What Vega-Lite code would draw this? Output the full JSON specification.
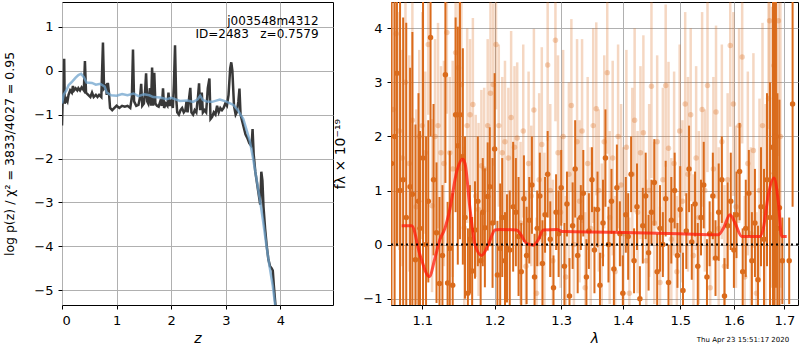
{
"$schema": "https://vega.github.io/schema/vega-lite/v6.json",
"padding": {"left": 3, "top": 1, "right": 0, "bottom": 0},
"bounds": "flush",
"spacing": 58,
"config": {
 "font": "DejaVu Sans",
 "view": {"stroke": "black", "strokeWidth": 1},
 "axis": {"grid": true, "gridColor": "#b0b0b0", "gridWidth": 1, "domain": false, "tickColor": "black", "tickSize": 4, "labelPadding": 5, "labelFontSize": 13, "labelColor": "black", "titleFontSize": 14, "titleColor": "black", "titleFontWeight": "normal", "zindex": 1}
},
"datasets": {
 "pz": [
  {"z":0.00,"p":-1.25},{"z":0.01,"p":-0.75},{"z":0.03,"p":-0.7},{"z":0.04,"p":0.27},{"z":0.05,"p":-0.75},{"z":0.08,"p":-0.65},{"z":0.10,"p":-0.7},{"z":0.12,"p":-0.55},{"z":0.15,"p":-0.45},{"z":0.18,"p":-0.5},{"z":0.20,"p":-0.35},{"z":0.22,"p":-0.45},{"z":0.25,"p":-0.4},{"z":0.28,"p":-0.45},{"z":0.30,"p":-0.4},{"z":0.33,"p":-0.45},{"z":0.36,"p":-0.38},{"z":0.40,"p":-0.45},{"z":0.42,"p":0.22},{"z":0.44,"p":-0.5},{"z":0.48,"p":-0.55},{"z":0.52,"p":-0.6},{"z":0.55,"p":-0.5},{"z":0.58,"p":-0.6},{"z":0.62,"p":-0.55},{"z":0.65,"p":-0.6},{"z":0.68,"p":-0.55},{"z":0.72,"p":-0.6},{"z":0.75,"p":0.64},{"z":0.77,"p":-0.4},{"z":0.80,"p":-0.35},{"z":0.82,"p":-0.55},{"z":0.84,"p":-0.28},{"z":0.86,"p":-0.5},{"z":0.88,"p":-0.85},{"z":0.92,"p":-0.9},{"z":0.96,"p":-0.85},{"z":1.00,"p":-0.8},{"z":1.05,"p":-0.85},{"z":1.10,"p":-0.8},{"z":1.15,"p":-0.82},{"z":1.20,"p":-0.8},{"z":1.25,"p":-0.85},{"z":1.28,"p":-0.6},{"z":1.30,"p":0.48},{"z":1.32,"p":-0.7},{"z":1.36,"p":-0.8},{"z":1.40,"p":-0.78},{"z":1.43,"p":-0.6},{"z":1.45,"p":-0.3},{"z":1.47,"p":-0.8},{"z":1.50,"p":-0.75},{"z":1.52,"p":-0.5},{"z":1.54,"p":-0.06},{"z":1.56,"p":-0.7},{"z":1.58,"p":-0.75},{"z":1.61,"p":-0.4},{"z":1.63,"p":-0.8},{"z":1.65,"p":0.07},{"z":1.67,"p":-0.8},{"z":1.69,"p":-0.05},{"z":1.71,"p":-0.75},{"z":1.74,"p":-0.8},{"z":1.77,"p":-0.82},{"z":1.80,"p":-0.7},{"z":1.83,"p":-0.8},{"z":1.85,"p":-0.4},{"z":1.87,"p":-0.85},{"z":1.90,"p":-0.75},{"z":1.93,"p":-0.8},{"z":1.95,"p":-0.5},{"z":1.97,"p":-0.8},{"z":2.00,"p":-0.7},{"z":2.03,"p":-0.85},{"z":2.05,"p":-0.3},{"z":2.07,"p":0.58},{"z":2.09,"p":-0.6},{"z":2.11,"p":-0.95},{"z":2.14,"p":-1.0},{"z":2.17,"p":-0.9},{"z":2.20,"p":-0.85},{"z":2.23,"p":-0.95},{"z":2.26,"p":-0.9},{"z":2.28,"p":-0.7},{"z":2.30,"p":-0.95},{"z":2.33,"p":-0.6},{"z":2.35,"p":-0.39},{"z":2.37,"p":-0.95},{"z":2.40,"p":-1.0},{"z":2.43,"p":-0.9},{"z":2.46,"p":-0.95},{"z":2.49,"p":-0.6},{"z":2.51,"p":-0.29},{"z":2.53,"p":-0.9},{"z":2.56,"p":-0.5},{"z":2.58,"p":-0.95},{"z":2.61,"p":-0.9},{"z":2.64,"p":-0.95},{"z":2.67,"p":-0.4},{"z":2.70,"p":-0.18},{"z":2.72,"p":-1.1},{"z":2.75,"p":-1.05},{"z":2.78,"p":-0.95},{"z":2.81,"p":-1.0},{"z":2.84,"p":-0.8},{"z":2.87,"p":-0.95},{"z":2.90,"p":-0.85},{"z":2.93,"p":-0.9},{"z":2.96,"p":-0.85},{"z":2.99,"p":-0.75},{"z":3.02,"p":-0.8},{"z":3.05,"p":-0.55},{"z":3.08,"p":0.05},{"z":3.10,"p":0.19},{"z":3.12,"p":0.0},{"z":3.15,"p":-0.8},{"z":3.18,"p":-1.0},{"z":3.20,"p":-0.95},{"z":3.23,"p":-0.7},{"z":3.25,"p":-0.41},{"z":3.27,"p":-1.0},{"z":3.30,"p":-1.15},{"z":3.33,"p":-1.3},{"z":3.36,"p":-1.45},{"z":3.40,"p":-1.55},{"z":3.43,"p":-1.65},{"z":3.46,"p":-1.7},{"z":3.48,"p":-1.55},{"z":3.49,"p":-1.33},{"z":3.51,"p":-1.9},{"z":3.54,"p":-2.3},{"z":3.57,"p":-2.55},{"z":3.60,"p":-2.8},{"z":3.63,"p":-3.05},{"z":3.65,"p":-2.3},{"z":3.67,"p":-2.5},{"z":3.69,"p":-3.1},{"z":3.72,"p":-3.6},{"z":3.75,"p":-4.0},{"z":3.78,"p":-4.3},{"z":3.81,"p":-4.45},{"z":3.84,"p":-4.5},{"z":3.86,"p":-4.55},{"z":3.88,"p":-4.9},{"z":3.92,"p":-5.5}
 ],
 "pzs": [
  {"z":0.00,"p":-0.75},{"z":0.03,"p":-0.55},{"z":0.08,"p":-0.45},{"z":0.12,"p":-0.33},{"z":0.17,"p":-0.27},{"z":0.25,"p":-0.16},{"z":0.30,"p":-0.1},{"z":0.35,"p":-0.07},{"z":0.40,"p":-0.15},{"z":0.45,"p":-0.27},{"z":0.55,"p":-0.28},{"z":0.62,"p":-0.32},{"z":0.70,"p":-0.3},{"z":0.78,"p":-0.36},{"z":0.82,"p":-0.5},{"z":0.90,"p":-0.56},{"z":1.00,"p":-0.57},{"z":1.10,"p":-0.53},{"z":1.20,"p":-0.56},{"z":1.31,"p":-0.52},{"z":1.40,"p":-0.58},{"z":1.50,"p":-0.54},{"z":1.60,"p":-0.56},{"z":1.67,"p":-0.6},{"z":1.80,"p":-0.61},{"z":1.92,"p":-0.65},{"z":2.00,"p":-0.62},{"z":2.16,"p":-0.69},{"z":2.30,"p":-0.68},{"z":2.40,"p":-0.71},{"z":2.48,"p":-0.66},{"z":2.53,"p":-0.57},{"z":2.58,"p":-0.67},{"z":2.65,"p":-0.7},{"z":2.75,"p":-0.71},{"z":2.89,"p":-0.66},{"z":3.00,"p":-0.7},{"z":3.14,"p":-0.78},{"z":3.22,"p":-0.9},{"z":3.32,"p":-1.1},{"z":3.38,"p":-1.35},{"z":3.44,"p":-1.6},{"z":3.50,"p":-2.0},{"z":3.56,"p":-2.45},{"z":3.62,"p":-2.9},{"z":3.68,"p":-3.4},{"z":3.74,"p":-3.95},{"z":3.80,"p":-4.45},{"z":3.86,"p":-4.9},{"z":3.92,"p":-5.5}
 ],
 "model": [
  {"w":1.0731,"f":0.35},{"w":1.0861,"f":0.35},{"w":1.0970,"f":-0.19},{"w":1.1093,"f":-0.59},{"w":1.1169,"f":-0.25},{"w":1.1237,"f":0.10},{"w":1.1304,"f":0.30},{"w":1.1373,"f":0.67},{"w":1.1465,"f":1.35},{"w":1.1545,"f":1.58},{"w":1.1580,"f":1.5},{"w":1.1649,"f":0.67},{"w":1.1720,"f":0.0},{"w":1.1814,"f":-0.2},{"w":1.1909,"f":0.0},{"w":1.2005,"f":0.27},{"w":1.2077,"f":0.28},{"w":1.2322,"f":0.27},{"w":1.2371,"f":0.21},{"w":1.2471,"f":0.02},{"w":1.2571,"f":-0.01},{"w":1.2647,"f":0.09},{"w":1.2723,"f":0.27},{"w":1.2930,"f":0.28},{"w":1.3032,"f":0.24},{"w":1.3840,"f":0.23},{"w":1.4996,"f":0.20},{"w":1.5703,"f":0.18},{"w":1.5798,"f":0.30},{"w":1.5925,"f":0.55},{"w":1.6021,"f":0.40},{"w":1.6151,"f":0.15},{"w":1.6510,"f":0.15},{"w":1.6576,"f":0.30},{"w":1.6676,"f":0.92},{"w":1.6791,"f":1.23},{"w":1.6878,"f":0.79},{"w":1.6947,"f":0.15},{"w":1.7049,"f":0.15}
 ],
 "dark": [
  {"w":1.060,"f":1.5,"lo":-2.5,"hi":5.5},{"w":1.064,"f":2.0,"lo":-1.5,"hi":5.5},{"w":1.067,"f":3.17,"lo":-0.03,"hi":6.37},{"w":1.071,"f":1.0,"lo":-2.8,"hi":4.8},{"w":1.075,"f":1.2,"lo":-1.8,"hi":4.2},{"w":1.079,"f":0.5,"lo":-3.1,"hi":4.1},{"w":1.084,"f":1.07,"lo":-1.13,"hi":3.27},{"w":1.087,"f":0.93,"lo":-2.07,"hi":3.93},{"w":1.091,"f":-0.28,"lo":-2.78,"hi":2.22},{"w":1.095,"f":0.8,"lo":-1.2,"hi":2.8},{"w":1.097,"f":0.3,"lo":-1.5,"hi":2.1},{"w":1.101,"f":1.6,"lo":-1.6,"hi":4.8},{"w":1.105,"f":0.0,"lo":-2.0,"hi":2.0},{"w":1.108,"f":0.8,"lo":-0.7,"hi":2.3},{"w":1.111,"f":3.83,"lo":2.0,"hi":5.43},{"w":1.115,"f":1.2,"lo":-0.2,"hi":2.6},{"w":1.119,"f":0.22,"lo":-1.08,"hi":1.52},{"w":1.123,"f":-0.72,"lo":-2.32,"hi":0.88},{"w":1.127,"f":-0.2,"lo":-1.5,"hi":1.1},{"w":1.131,"f":3.14,"lo":1.14,"hi":5.14},{"w":1.134,"f":-0.71,"lo":-2.21,"hi":0.79},{"w":1.137,"f":-0.07,"lo":-1.87,"hi":1.73},{"w":1.141,"f":-0.75,"lo":-2.45,"hi":0.95},{"w":1.145,"f":2.4,"lo":0.6,"hi":4.2},{"w":1.148,"f":1.83,"lo":-0.37,"hi":4.03},{"w":1.151,"f":2.4,"lo":0.1,"hi":4.7},{"w":1.155,"f":1.63,"lo":-0.37,"hi":3.63},{"w":1.158,"f":0.5,"lo":-1.0,"hi":2.0},{"w":1.162,"f":-0.9,"lo":-2.1,"hi":0.3},{"w":1.165,"f":0.1,"lo":-0.9,"hi":1.1},{"w":1.168,"f":-0.49,"lo":-1.49,"hi":0.51},{"w":1.172,"f":0.27,"lo":-0.63,"hi":1.17},{"w":1.176,"f":0.8,"lo":-0.4,"hi":2.0},{"w":1.180,"f":-0.3,"lo":-1.2,"hi":0.6},{"w":1.183,"f":0.6,"lo":-0.4,"hi":1.6},{"w":1.186,"f":0.31,"lo":-0.79,"hi":1.41},{"w":1.190,"f":0.89,"lo":-0.11,"hi":1.89},{"w":1.193,"f":1.07,"lo":-0.03,"hi":2.17},{"w":1.197,"f":0.4,"lo":-0.8,"hi":1.6},{"w":1.200,"f":1.77,"lo":0.37,"hi":3.17},{"w":1.204,"f":-0.56,"lo":-1.56,"hi":0.44},{"w":1.208,"f":-0.07,"lo":-1.27,"hi":1.13},{"w":1.211,"f":0.5,"lo":-0.6,"hi":1.6},{"w":1.215,"f":-0.3,"lo":-1.2,"hi":0.6},{"w":1.218,"f":-0.07,"lo":-1.07,"hi":0.93},{"w":1.222,"f":-0.1,"lo":-1.2,"hi":1.0},{"w":1.227,"f":0.7,"lo":-0.5,"hi":1.9},{"w":1.231,"f":0.6,"lo":-0.4,"hi":1.6},{"w":1.235,"f":0.15,"lo":-0.95,"hi":1.25},{"w":1.239,"f":-0.5,"lo":-1.4,"hi":0.4},{"w":1.243,"f":0.85,"lo":0.05,"hi":1.65},{"w":1.247,"f":-0.2,"lo":-1.1,"hi":0.7},{"w":1.251,"f":0.45,"lo":-0.35,"hi":1.25},{"w":1.255,"f":1.1,"lo":0.2,"hi":2.0},{"w":1.259,"f":-0.6,"lo":-1.4,"hi":0.2},{"w":1.263,"f":0.3,"lo":-0.4,"hi":1.0},{"w":1.267,"f":0.9,"lo":0.1,"hi":1.7},{"w":1.271,"f":-0.35,"lo":-1.15,"hi":0.45},{"w":1.275,"f":0.55,"lo":-0.15,"hi":1.25},{"w":1.279,"f":1.3,"lo":0.5,"hi":2.1},{"w":1.283,"f":0.1,"lo":-0.6,"hi":0.8},{"w":1.288,"f":-0.8,"lo":-1.4,"hi":-0.2},{"w":1.292,"f":0.6,"lo":-0.1,"hi":1.3},{"w":1.296,"f":0.2,"lo":-0.6,"hi":1.0},{"w":1.300,"f":1.05,"lo":0.35,"hi":1.75},{"w":1.305,"f":-0.4,"lo":-1.2,"hi":0.4},{"w":1.309,"f":0.75,"lo":0.15,"hi":1.35},{"w":1.313,"f":-0.95,"lo":-1.65,"hi":-0.25},{"w":1.318,"f":0.35,"lo":-0.45,"hi":1.15},{"w":1.322,"f":1.4,"lo":0.5,"hi":2.3},{"w":1.326,"f":-0.2,"lo":-0.9,"hi":0.5},{"w":1.331,"f":0.5,"lo":-0.1,"hi":1.1},{"w":1.335,"f":0.95,"lo":0.15,"hi":1.75},{"w":1.340,"f":-0.6,"lo":-1.3,"hi":0.1},{"w":1.344,"f":0.25,"lo":-0.45,"hi":0.95},{"w":1.349,"f":1.2,"lo":0.6,"hi":1.8},{"w":1.353,"f":-0.1,"lo":-0.9,"hi":0.7},{"w":1.358,"f":0.65,"lo":-0.05,"hi":1.35},{"w":1.362,"f":-0.75,"lo":-1.35,"hi":-0.15},{"w":1.367,"f":0.4,"lo":-0.4,"hi":1.2},{"w":1.371,"f":1.6,"lo":0.7,"hi":2.5},{"w":1.376,"f":0.0,"lo":-0.7,"hi":0.7},{"w":1.381,"f":0.8,"lo":0.2,"hi":1.4},{"w":1.385,"f":-0.45,"lo":-1.15,"hi":0.25},{"w":1.390,"f":1.05,"lo":0.25,"hi":1.85},{"w":1.395,"f":0.2,"lo":-0.4,"hi":0.8},{"w":1.400,"f":-0.9,"lo":-1.6,"hi":-0.2},{"w":1.405,"f":0.55,"lo":-0.15,"hi":1.25},{"w":1.409,"f":0.15,"lo":-0.65,"hi":0.95},{"w":1.414,"f":1.3,"lo":0.6,"hi":2.0},{"w":1.419,"f":-0.3,"lo":-0.9,"hi":0.3},{"w":1.424,"f":0.7,"lo":-0.1,"hi":1.5},{"w":1.429,"f":-1.0,"lo":-1.6,"hi":-0.4},{"w":1.434,"f":0.35,"lo":-0.35,"hi":1.05},{"w":1.439,"f":0.9,"lo":0.1,"hi":1.7},{"w":1.444,"f":-0.15,"lo":-0.85,"hi":0.55},{"w":1.449,"f":0.6,"lo":0.0,"hi":1.2},{"w":1.454,"f":1.15,"lo":0.35,"hi":1.95},{"w":1.459,"f":-0.5,"lo":-1.2,"hi":0.2},{"w":1.464,"f":0.3,"lo":-0.5,"hi":1.1},{"w":1.469,"f":0.0,"lo":-0.6,"hi":0.6},{"w":1.474,"f":0.85,"lo":0.15,"hi":1.55},{"w":1.479,"f":-0.7,"lo":-1.4,"hi":0.0},{"w":1.484,"f":0.45,"lo":-0.35,"hi":1.25},{"w":1.490,"f":1.0,"lo":0.3,"hi":1.7},{"w":1.495,"f":-0.2,"lo":-0.8,"hi":0.4},{"w":1.500,"f":0.65,"lo":-0.15,"hi":1.45},{"w":1.505,"f":-0.85,"lo":-1.55,"hi":-0.15},{"w":1.511,"f":0.25,"lo":-0.45,"hi":0.95},{"w":1.516,"f":1.4,"lo":0.6,"hi":2.2},{"w":1.521,"f":0.05,"lo":-0.65,"hi":0.75},{"w":1.527,"f":0.75,"lo":0.15,"hi":1.35},{"w":1.532,"f":-0.4,"lo":-1.2,"hi":0.4},{"w":1.538,"f":0.5,"lo":-0.2,"hi":1.2},{"w":1.543,"f":1.1,"lo":0.3,"hi":1.9},{"w":1.549,"f":-0.6,"lo":-1.3,"hi":0.1},{"w":1.554,"f":0.2,"lo":-0.4,"hi":0.8},{"w":1.560,"f":0.9,"lo":0.1,"hi":1.7},{"w":1.565,"f":-0.25,"lo":-0.95,"hi":0.45},{"w":1.571,"f":0.6,"lo":-0.3,"hi":1.5},{"w":1.577,"f":1.2,"lo":0.4,"hi":2.0},{"w":1.582,"f":-0.95,"lo":-1.65,"hi":-0.25},{"w":1.588,"f":0.35,"lo":-0.45,"hi":1.15},{"w":1.594,"f":0.8,"lo":-0.1,"hi":1.7},{"w":1.600,"f":-0.1,"lo":-0.8,"hi":0.6},{"w":1.605,"f":0.55,"lo":-0.25,"hi":1.35},{"w":1.611,"f":1.35,"lo":0.45,"hi":2.25},{"w":1.617,"f":-0.5,"lo":-1.3,"hi":0.3},{"w":1.623,"f":0.3,"lo":-0.6,"hi":1.2},{"w":1.629,"f":0.95,"lo":0.15,"hi":1.75},{"w":1.635,"f":-0.3,"lo":-1.2,"hi":0.6},{"w":1.641,"f":0.4,"lo":-0.6,"hi":1.4},{"w":1.647,"f":-0.65,"lo":-1.65,"hi":0.35},{"w":1.653,"f":0.7,"lo":-0.4,"hi":1.8},{"w":1.659,"f":0.1,"lo":-1.2,"hi":1.4},{"w":1.665,"f":1.2,"lo":-0.4,"hi":2.8},{"w":1.671,"f":0.5,"lo":-2.0,"hi":3.0},{"w":1.677,"f":1.8,"lo":-1.2,"hi":4.8},{"w":1.680,"f":1.32,"lo":-1.88,"hi":4.52},{"w":1.683,"f":2.0,"lo":-0.8,"hi":4.8},{"w":1.686,"f":0.3,"lo":-2.2,"hi":2.8},{"w":1.690,"f":0.68,"lo":-1.32,"hi":2.68},{"w":1.696,"f":-0.3,"lo":-1.1,"hi":0.5},{"w":1.710,"f":-0.3,"lo":-1.1,"hi":0.5},{"w":1.717,"f":2.6,"lo":0.7,"hi":4.5}
 ],
 "light": [
  {"w":1.062,"f":2.5,"lo":0.0,"hi":5.0},{"w":1.066,"f":3.9,"lo":2.1,"hi":5.7},{"w":1.070,"f":2.1,"lo":-0.1,"hi":4.3},{"w":1.074,"f":1.6,"lo":-0.4,"hi":3.6},{"w":1.078,"f":3.0,"lo":1.2,"hi":4.8},{"w":1.083,"f":1.5,"lo":-0.5,"hi":3.5},{"w":1.087,"f":2.3,"lo":-0.1,"hi":4.7},{"w":1.092,"f":0.7,"lo":-1.1,"hi":2.5},{"w":1.096,"f":2.0,"lo":0.4,"hi":3.6},{"w":1.100,"f":2.2,"lo":0.1,"hi":4.3},{"w":1.104,"f":1.7,"lo":0.2,"hi":3.2},{"w":1.108,"f":3.7,"lo":2.4,"hi":5.0},{"w":1.113,"f":0.72,"lo":-0.88,"hi":2.32},{"w":1.117,"f":2.0,"lo":0.2,"hi":3.8},{"w":1.121,"f":2.2,"lo":0.3,"hi":4.1},{"w":1.125,"f":1.7,"lo":0.1,"hi":3.3},{"w":1.129,"f":1.5,"lo":-0.4,"hi":3.4},{"w":1.133,"f":3.92,"lo":2.42,"hi":5.42},{"w":1.137,"f":1.7,"lo":0.3,"hi":3.1},{"w":1.141,"f":1.4,"lo":-0.6,"hi":3.4},{"w":1.145,"f":3.55,"lo":2.35,"hi":4.75},{"w":1.149,"f":3.27,"lo":1.77,"hi":4.77},{"w":1.153,"f":2.96,"lo":1.36,"hi":4.56},{"w":1.157,"f":0.31,"lo":-1.19,"hi":1.81},{"w":1.161,"f":2.2,"lo":0.4,"hi":4.0},{"w":1.165,"f":2.4,"lo":1.0,"hi":3.8},{"w":1.169,"f":2.59,"lo":0.99,"hi":4.19},{"w":1.173,"f":0.9,"lo":-0.6,"hi":2.4},{"w":1.177,"f":0.65,"lo":-0.95,"hi":2.25},{"w":1.181,"f":1.46,"lo":0.06,"hi":2.86},{"w":1.185,"f":1.4,"lo":-0.1,"hi":2.9},{"w":1.190,"f":2.2,"lo":0.6,"hi":3.8},{"w":1.194,"f":2.8,"lo":1.1,"hi":4.5},{"w":1.198,"f":2.96,"lo":1.46,"hi":4.46},{"w":1.202,"f":3.7,"lo":2.5,"hi":4.9},{"w":1.206,"f":2.2,"lo":0.7,"hi":3.7},{"w":1.211,"f":1.7,"lo":0.3,"hi":3.1},{"w":1.215,"f":1.9,"lo":0.4,"hi":3.4},{"w":1.220,"f":1.6,"lo":0.3,"hi":2.9},{"w":1.224,"f":2.35,"lo":0.75,"hi":3.95},{"w":1.229,"f":1.8,"lo":0.3,"hi":3.3},{"w":1.233,"f":1.97,"lo":0.57,"hi":3.37},{"w":1.238,"f":0.4,"lo":-1.1,"hi":1.9},{"w":1.242,"f":2.1,"lo":0.5,"hi":3.7},{"w":1.246,"f":-0.4,"lo":-1.8,"hi":1.0},{"w":1.250,"f":1.5,"lo":-0.2,"hi":3.2},{"w":1.254,"f":0.9,"lo":-0.4,"hi":2.2},{"w":1.258,"f":2.49,"lo":0.99,"hi":3.99},{"w":1.262,"f":-0.9,"lo":-2.3,"hi":0.5},{"w":1.266,"f":1.2,"lo":-0.4,"hi":2.8},{"w":1.270,"f":1.85,"lo":0.05,"hi":3.65},{"w":1.274,"f":0.2,"lo":-1.3,"hi":1.7},{"w":1.279,"f":3.32,"lo":1.92,"hi":4.72},{"w":1.283,"f":1.0,"lo":-0.6,"hi":2.6},{"w":1.287,"f":-0.3,"lo":-1.8,"hi":1.2},{"w":1.291,"f":3.78,"lo":2.28,"hi":5.28},{"w":1.295,"f":1.7,"lo":-0.1,"hi":3.5},{"w":1.299,"f":0.6,"lo":-0.8,"hi":2.0},{"w":1.303,"f":2.0,"lo":0.4,"hi":3.6},{"w":1.307,"f":-0.6,"lo":-2.1,"hi":0.9},{"w":1.312,"f":1.3,"lo":-0.4,"hi":3.0},{"w":1.316,"f":2.57,"lo":0.97,"hi":4.17},{"w":1.320,"f":0.0,"lo":-1.4,"hi":1.4},{"w":1.325,"f":1.9,"lo":0.0,"hi":3.8},{"w":1.329,"f":0.8,"lo":-0.7,"hi":2.3},{"w":1.333,"f":2.1,"lo":0.4,"hi":3.8},{"w":1.338,"f":-0.8,"lo":-2.2,"hi":0.6},{"w":1.342,"f":1.5,"lo":-0.1,"hi":3.1},{"w":1.347,"f":0.3,"lo":-1.2,"hi":1.8},{"w":1.351,"f":2.2,"lo":0.4,"hi":4.0},{"w":1.356,"f":2.51,"lo":0.91,"hi":4.11},{"w":1.360,"f":1.0,"lo":-0.5,"hi":2.5},{"w":1.365,"f":-0.2,"lo":-1.9,"hi":1.5},{"w":1.369,"f":1.9,"lo":0.3,"hi":3.5},{"w":1.374,"f":3.18,"lo":1.68,"hi":4.68},{"w":1.378,"f":0.5,"lo":-1.1,"hi":2.1},{"w":1.383,"f":1.6,"lo":-0.2,"hi":3.4},{"w":1.387,"f":-0.5,"lo":-1.9,"hi":0.9},{"w":1.392,"f":2.0,"lo":0.3,"hi":3.7},{"w":1.397,"f":1.1,"lo":-0.4,"hi":2.6},{"w":1.401,"f":0.2,"lo":-1.4,"hi":1.8},{"w":1.406,"f":1.8,"lo":0.0,"hi":3.6},{"w":1.411,"f":-0.9,"lo":-2.3,"hi":0.5},{"w":1.416,"f":1.3,"lo":-0.3,"hi":2.9},{"w":1.420,"f":2.3,"lo":0.6,"hi":4.0},{"w":1.425,"f":0.6,"lo":-0.9,"hi":2.1},{"w":1.430,"f":1.7,"lo":0.1,"hi":3.3},{"w":1.435,"f":2.07,"lo":0.27,"hi":3.87},{"w":1.440,"f":-0.3,"lo":-1.8,"hi":1.2},{"w":1.445,"f":1.0,"lo":-0.6,"hi":2.6},{"w":1.449,"f":2.93,"lo":1.23,"hi":4.63},{"w":1.454,"f":0.4,"lo":-1.1,"hi":1.9},{"w":1.459,"f":1.9,"lo":0.3,"hi":3.5},{"w":1.464,"f":-0.7,"lo":-2.1,"hi":0.7},{"w":1.469,"f":1.2,"lo":-0.5,"hi":2.9},{"w":1.474,"f":2.94,"lo":1.44,"hi":4.44},{"w":1.479,"f":1.78,"lo":0.18,"hi":3.38},{"w":1.484,"f":0.1,"lo":-1.4,"hi":1.6},{"w":1.489,"f":1.5,"lo":-0.2,"hi":3.2},{"w":1.494,"f":-0.5,"lo":-1.9,"hi":0.9},{"w":1.499,"f":2.1,"lo":0.5,"hi":3.7},{"w":1.504,"f":0.8,"lo":-0.7,"hi":2.3},{"w":1.509,"f":2.6,"lo":0.9,"hi":4.3},{"w":1.514,"f":1.3,"lo":-0.5,"hi":3.1},{"w":1.519,"f":2.4,"lo":0.8,"hi":4.0},{"w":1.524,"f":-0.2,"lo":-1.7,"hi":1.3},{"w":1.529,"f":1.6,"lo":-0.1,"hi":3.3},{"w":1.534,"f":0.5,"lo":-1.1,"hi":2.1},{"w":1.540,"f":2.5,"lo":0.7,"hi":4.3},{"w":1.545,"f":1.0,"lo":-0.5,"hi":2.5},{"w":1.550,"f":2.94,"lo":1.34,"hi":4.54},{"w":1.555,"f":-0.8,"lo":-2.2,"hi":0.6},{"w":1.561,"f":1.4,"lo":-0.3,"hi":3.1},{"w":1.566,"f":2.45,"lo":0.85,"hi":4.05},{"w":1.571,"f":0.3,"lo":-1.2,"hi":1.8},{"w":1.577,"f":1.9,"lo":0.1,"hi":3.7},{"w":1.582,"f":-0.4,"lo":-1.9,"hi":1.1},{"w":1.588,"f":1.2,"lo":-0.4,"hi":2.8},{"w":1.593,"f":3.68,"lo":2.18,"hi":5.18},{"w":1.599,"f":2.6,"lo":0.9,"hi":4.3},{"w":1.604,"f":0.7,"lo":-0.8,"hi":2.2},{"w":1.610,"f":2.2,"lo":0.4,"hi":4.0},{"w":1.616,"f":3.47,"lo":1.87,"hi":5.07},{"w":1.621,"f":-0.6,"lo":-2.1,"hi":0.9},{"w":1.627,"f":1.5,"lo":-0.2,"hi":3.2},{"w":1.633,"f":0.2,"lo":-1.4,"hi":1.8},{"w":1.638,"f":1.74,"lo":-0.06,"hi":3.54},{"w":1.644,"f":-0.9,"lo":-2.4,"hi":0.6},{"w":1.650,"f":1.0,"lo":-0.7,"hi":2.7},{"w":1.656,"f":2.2,"lo":0.3,"hi":4.1},{"w":1.662,"f":0.6,"lo":-1.4,"hi":2.6},{"w":1.668,"f":2.7,"lo":0.5,"hi":4.9},{"w":1.670,"f":4.14,"lo":2.14,"hi":6.14},{"w":1.675,"f":1.8,"lo":-0.8,"hi":4.4},{"w":1.679,"f":3.31,"lo":0.91,"hi":5.71},{"w":1.684,"f":1.0,"lo":-2.0,"hi":4.0},{"w":1.688,"f":4.14,"lo":1.64,"hi":6.64},{"w":1.692,"f":2.0,"lo":-0.8,"hi":4.8}
 ]
},
"hconcat": [
 {
  "width": 271, "height": 303,
  "layer": [
   {"data": {"name": "pz"}, "mark": {"type": "line", "color": "#383838", "strokeWidth": 2.5, "clip": true},
    "encoding": {
     "x": {"field": "z", "type": "quantitative", "scale": {"domain": [0, 4.963], "nice": false, "zero": false}, "axis": {"values": [0, 1, 2, 3, 4], "format": "d", "title": "z", "titleFontStyle": "italic", "titlePadding": 4}},
     "y": {"field": "p", "type": "quantitative", "scale": {"domain": [-5.335, 1.563], "nice": false, "zero": false}, "axis": {"values": [-5, -4, -3, -2, -1, 0, 1], "format": "d", "title": "log p(z) / χ² = 3833/4027 = 0.95", "titleFontSize": 12.5, "titlePadding": 17}}
    }},
   {"data": {"name": "pzs"}, "mark": {"type": "line", "color": "#6fa3cc", "strokeWidth": 2.5, "opacity": 0.75, "clip": true},
    "encoding": {"x": {"field": "z", "type": "quantitative"}, "y": {"field": "p", "type": "quantitative"}}},
   {"data": {"values": [{}]}, "mark": {"type": "text", "align": "right", "baseline": "alphabetic", "fontSize": 12, "color": "black"},
    "encoding": {"x": {"datum": 4.70}, "y": {"datum": 1.039}, "text": {"value": "j003548m4312"}}},
   {"data": {"values": [{}]}, "mark": {"type": "text", "align": "right", "baseline": "alphabetic", "fontSize": 12, "color": "black"},
    "encoding": {"x": {"datum": 4.70}, "y": {"datum": 0.737}, "text": {"value": "ID=2483\u00a0\u00a0\u00a0z=0.7579"}}}
  ]
 },
 {
  "width": 407, "height": 303,
  "layer": [
   {"data": {"name": "light"}, "mark": {"type": "rule", "color": "#da6b1c", "opacity": 0.27, "strokeWidth": 2.5, "clip": true},
    "encoding": {
     "x": {"field": "w", "type": "quantitative", "scale": {"type": "log", "domain": [1.0594, 1.7282], "nice": false, "zero": false}, "axis": {"values": [1.1, 1.2, 1.3, 1.4, 1.5, 1.6, 1.7], "format": ".1f", "title": "λ", "titleFontStyle": "italic", "titlePadding": 4}},
     "y": {"field": "lo", "type": "quantitative", "scale": {"domain": [-1.117, 4.486], "nice": false, "zero": false}, "axis": {"values": [-1, 0, 1, 2, 3, 4], "format": "d", "title": "fλ × 10⁻¹⁹", "titlePadding": 15}},
     "y2": {"field": "hi"}
    }},
   {"data": {"name": "light"}, "mark": {"type": "point", "filled": true, "color": "#da6b1c", "opacity": 0.3, "size": 30, "clip": true},
    "encoding": {"x": {"field": "w", "type": "quantitative"}, "y": {"field": "f", "type": "quantitative"}}},
   {"data": {"name": "dark"}, "mark": {"type": "rule", "color": "#da6b1c", "strokeWidth": 2, "clip": true},
    "encoding": {"x": {"field": "w", "type": "quantitative"}, "y": {"field": "lo", "type": "quantitative"}, "y2": {"field": "hi"}}},
   {"data": {"name": "dark"}, "mark": {"type": "point", "filled": true, "color": "#da6b1c", "opacity": 1, "size": 30, "clip": true},
    "encoding": {"x": {"field": "w", "type": "quantitative"}, "y": {"field": "f", "type": "quantitative"}}},
   {"data": {"name": "model"}, "mark": {"type": "line", "color": "#ff1a0a", "opacity": 0.75, "strokeWidth": 3, "interpolate": "monotone", "clip": true},
    "encoding": {"x": {"field": "w", "type": "quantitative"}, "y": {"field": "f", "type": "quantitative"}}},
   {"data": {"values": [{}]}, "mark": {"type": "rule", "color": "black", "strokeDash": [2, 3], "strokeWidth": 2},
    "encoding": {"y": {"datum": 0}}},
   {"data": {"values": [{}]}, "mark": {"type": "text", "align": "center", "baseline": "alphabetic", "fontSize": 7, "color": "black"},
    "encoding": {"x": {"datum": 1.6176}, "y": {"datum": -1.81}, "text": {"value": "Thu Apr 23 15:51:17 2020"}}}
  ]
 }
]
}
